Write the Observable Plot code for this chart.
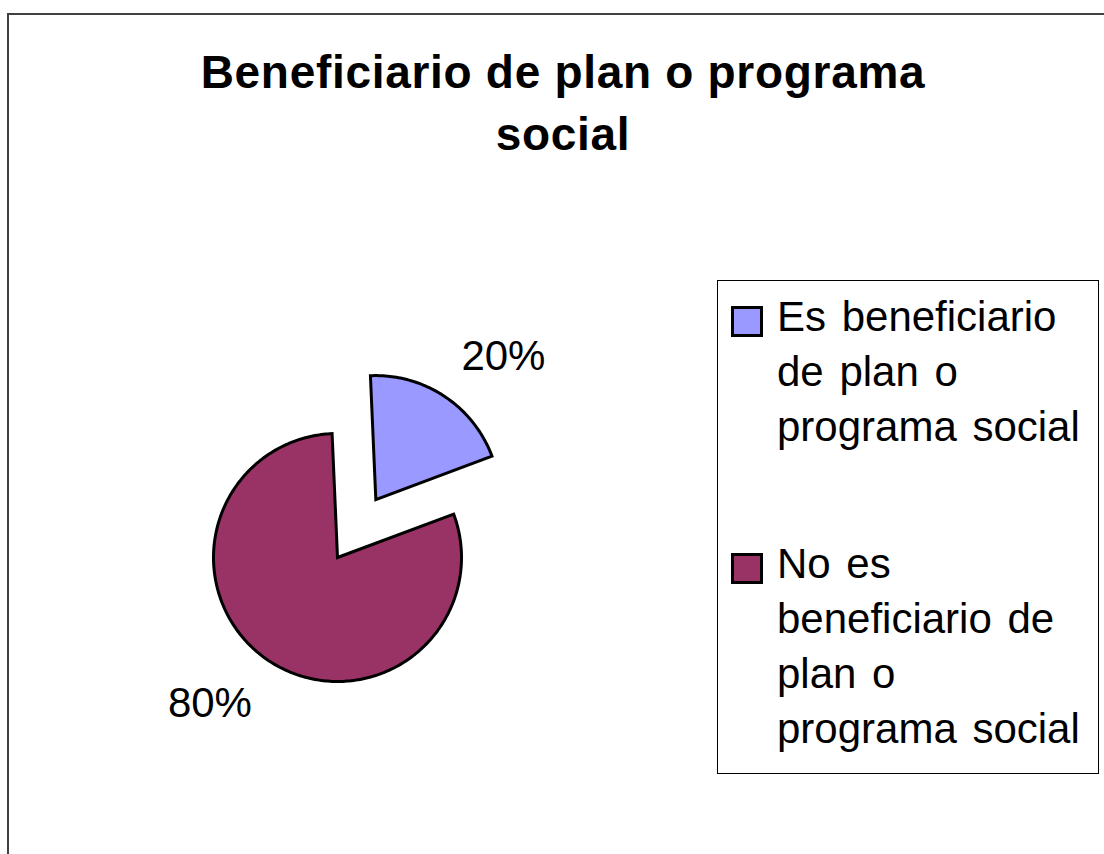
<!DOCTYPE html>
<html><head><meta charset="utf-8">
<script src="https://cdn.jsdelivr.net/npm/d3@7"></script>
<script src="https://cdn.jsdelivr.net/npm/@observablehq/plot@0.6"></script>
<style>
html,body{margin:0;padding:0;background:#fff;overflow:hidden;}
#wrap{position:relative;width:1104px;height:854px;overflow:hidden;font-family:"Liberation Sans",Arial,sans-serif;color:#000;}
#frame{position:absolute;left:7px;top:13px;width:1200px;height:1000px;border:2px solid #404040;}
#title{position:absolute;left:9px;width:1108px;top:41px;text-align:center;font-weight:bold;font-size:46px;line-height:62px;letter-spacing:0.7px;}
#chart{position:absolute;left:0;top:200px;}
#legend{position:absolute;left:717px;top:280px;width:382px;height:494px;border:1px solid #000;box-sizing:border-box;padding-top:8px;}
.entry{display:flex;align-items:flex-start;margin-bottom:82px;}
.sw{width:32px;height:31px;box-sizing:border-box;border:3px solid #000;margin-left:13px;margin-top:17px;flex:none;}
.lab{margin-left:14px;font-size:42px;line-height:55px;white-space:pre;word-spacing:4px;}
</style></head>
<body>
<div id="wrap">
  <div id="frame"></div>
  <div id="title"></div>
  <div id="chart"></div>
  <div id="legend"></div>
</div>
<script>
// ---- data ----
const titleLines = ["Beneficiario de plan o programa", "social"];
const categories = ["Es beneficiario de plan o programa social", "No es beneficiario de plan o programa social"];
const legendLabels = ["Es beneficiario\nde plan o\nprograma social", "No es\nbeneficiario de\nplan o\nprograma social"];
const values = [20, 80];
const pctLabels = ["20%", "80%"];
const colors = ["#9999FF", "#993366"];
const explode = [0.56, 0];
const startAngle = -2.5;

// ---- title ----
document.getElementById("title").innerHTML = titleLines.join("<br>");

// ---- slices ----
const total = d3.sum(values);
let acc = startAngle;
const slices = values.map((v, i) => {
  const a0 = acc, a1 = acc + v / total * 360; acc = a1;
  const mid = (a0 + a1) / 2, rm = mid * Math.PI / 180;
  return {cat: categories[i], a0, a1, mid, cx: explode[i] * Math.sin(rm), cy: explode[i] * Math.cos(rm), label: pctLabels[i]};
});
const pts = [];
slices.forEach(s => {
  const n = Math.ceil(s.a1 - s.a0);
  const arc = d3.range(n + 1).map(k => s.a0 + (s.a1 - s.a0) * k / n);
  const half = Math.floor(n / 2);
  const order = [...arc.slice(half), null, ...arc.slice(0, half + 1)];
  order.forEach(a => {
    if (a === null) pts.push({cat: s.cat, x: s.cx, y: s.cy});
    else { const r = a * Math.PI / 180; pts.push({cat: s.cat, x: s.cx + Math.sin(r), y: s.cy + Math.cos(r)}); }
  });
});
const labR = 1.25;
const labelMarks = slices.map(s => {
  const rm = s.mid * Math.PI / 180;
  const d = [{x: s.cx + labR * Math.sin(rm), y: s.cy + labR * Math.cos(rm), t: s.label}];
  return Plot.text(d, {x: "x", y: "y", text: "t", fontSize: 42, fill: "#000",
    textAnchor: Math.sin(rm) >= 0 ? "start" : "end",
    lineAnchor: Math.cos(rm) >= 0 ? "bottom" : "top"});
});

const W = 700, H = 620, R = 124, CX = 337, CY = 357;
const plot = Plot.plot({
  width: W, height: H, margin: 0,
  x: {domain: [-CX / R, (W - CX) / R], axis: null},
  y: {domain: [-(H - CY) / R, CY / R], axis: null},
  color: {domain: categories, range: colors},
  style: {fontFamily: "'Liberation Sans', Arial, sans-serif", background: "transparent", overflow: "visible"},
  marks: [
    Plot.line(pts, {x: "x", y: "y", z: "cat", fill: "cat", stroke: "#000", strokeWidth: 3,
      strokeLinejoin: "miter", strokeMiterlimit: 10, strokeLinecap: "butt", curve: "linear"}),
    ...labelMarks
  ]
});
document.getElementById("chart").appendChild(plot);

// ---- legend ----
const leg = document.getElementById("legend");
categories.forEach((c, i) => {
  const e = document.createElement("div"); e.className = "entry";
  const sw = document.createElement("div"); sw.className = "sw"; sw.style.background = colors[i];
  const lb = document.createElement("div"); lb.className = "lab"; lb.textContent = legendLabels[i];
  e.appendChild(sw); e.appendChild(lb); leg.appendChild(e);
});
</script>
</body></html>
